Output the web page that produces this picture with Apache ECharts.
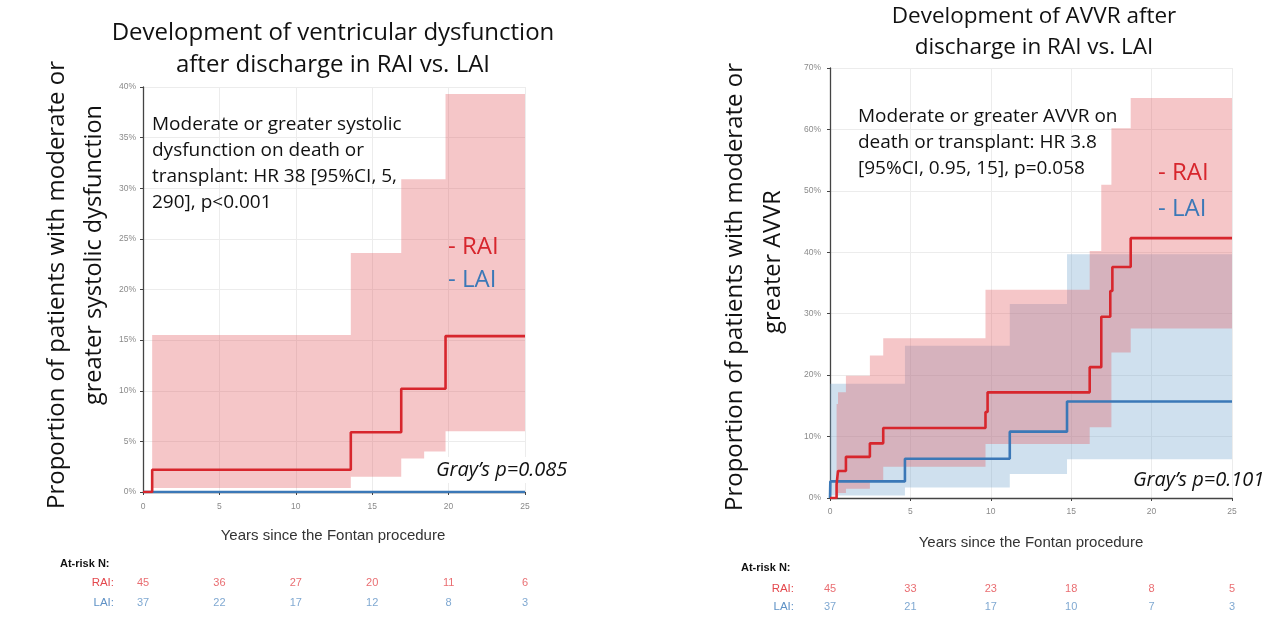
<!DOCTYPE html>
<html><head><meta charset="utf-8">
<script src="https://cdn.jsdelivr.net/npm/echarts@6/dist/echarts.min.js"></script>
<style>html,body{margin:0;padding:0;background:#fff}#c{width:1280px;height:627px}</style>
</head><body><div id="c"></div>
<script>
// ---------- data ----------
const xTicks = [0, 5, 10, 15, 20, 25];
// Left panel: ventricular dysfunction
const L_raiX = [0, 0.6, 13.6, 16.9, 19.8, 25];
const L_raiY = [0, 2.2, 5.9, 10.2, 15.4, 15.4];
const L_laiX = [0, 25];
const L_laiY = [0, 0];
const L_raiBandT  = [0.6, 13.6, 16.9, 18.4, 19.8, 25];
const L_raiBandLo = [0.4, 1.5, 3.3, 4.0, 6.0];
const L_raiBandUp = [15.5, 23.6, 30.9, 30.9, 39.3];
const L_riskRAI = [45, 36, 27, 20, 11, 6];
const L_riskLAI = [37, 22, 17, 12, 8, 3];
// Right panel: AVVR
const R_raiX = [0, 0.41, 0.5, 0.99, 2.48, 3.31, 9.67, 9.8, 16.15, 16.87, 17.43, 17.56, 18.7, 25];
const R_raiY = [0, 2.2, 4.4, 6.7, 8.9, 11.4, 14.0, 17.2, 21.3, 29.5, 33.7, 37.6, 42.3, 42.3];
const R_laiX = [0, 0.02, 4.66, 11.18, 14.74, 25];
const R_laiY = [0, 2.7, 6.4, 10.8, 15.7, 15.7];
const R_raiBandT  = [0.41, 0.5, 0.99, 2.48, 3.31, 9.67, 16.15, 16.87, 17.5, 18.7, 25];
const R_raiBandLo = [0.3, 0.8, 1.5, 2.8, 5.1, 8.8, 11.5, 11.5, 23.7, 27.6];
const R_raiBandUp = [15.3, 17.2, 19.9, 23.2, 26.0, 33.9, 40.2, 51.0, 60.2, 65.1];
const R_laiBandT  = [0, 4.66, 11.18, 14.74, 25];
const R_laiBandLo = [0.4, 1.7, 3.9, 6.3];
const R_laiBandUp = [18.6, 24.8, 31.6, 39.7];
const R_riskRAI = [45, 33, 23, 18, 8, 5];
const R_riskLAI = [37, 21, 17, 10, 7, 3];

// ---------- style ----------
const RED = '#d7262d', BLUE = '#3b78b7';
const PINK = 'rgba(226,92,98,0.35)', LBLUE = 'rgba(118,166,206,0.35)';
const RISK_RED = '#e4484d', RISK_BLUE = '#5f92c6';
const FONT = '"Open Sans", "Noto Sans", sans-serif';
const ARIAL = '"Liberation Sans", Arial, sans-serif';

const chart = echarts.init(document.getElementById('c'), null, {renderer: 'canvas'});

function pairs(xs, ys) { return xs.map((x, i) => [x, ys[i]]); }
function bandSeries(T, lo, up, color, ai) {
  const items = lo.map((v, i) => [T[i], T[i + 1], v, up[i]]);
  return {
    type: 'custom', xAxisIndex: ai, yAxisIndex: ai, data: items, z: 1, silent: true,
    encode: {x: [0, 1], y: [2, 3]},
    renderItem(params, api) {
      if (params.dataIndex !== 0) return null;
      const pts = [];
      for (let i = 0; i < items.length; i++) {
        pts.push(api.coord([items[i][0], items[i][3]]));
        pts.push(api.coord([items[i][1], items[i][3]]));
      }
      for (let i = items.length - 1; i >= 0; i--) {
        pts.push(api.coord([items[i][1], items[i][2]]));
        pts.push(api.coord([items[i][0], items[i][2]]));
      }
      return {type: 'polygon', shape: {points: pts}, style: {fill: color}};
    }
  };
}
function stepLine(xs, ys, color, ai) {
  return {type: 'line', step: 'end', xAxisIndex: ai, yAxisIndex: ai, data: pairs(xs, ys),
    showSymbol: false, symbol: 'none', z: 5, silent: true,
    lineStyle: {color: color, width: 2.6}};
}
function riskSeries(vals, row, color, ai) {
  return {type: 'scatter', xAxisIndex: ai, yAxisIndex: ai, symbolSize: 2, silent: true,
    itemStyle: {color: 'rgba(0,0,0,0)'},
    data: vals.map((v, i) => [xTicks[i], row, v]),
    label: {show: true, position: 'inside', formatter: p => String(p.value[2]),
      color: color, fontSize: 11, fontFamily: ARIAL}};
}
function valAxisX(gi, offset) {
  return {type: 'value', gridIndex: gi, min: 0, max: 25, interval: 5, offset: offset,
    axisLine: {show: true, lineStyle: {color: '#444', width: 1.3}},
    axisTick: {show: true, length: 3, lineStyle: {color: '#444'}},
    axisLabel: {color: '#8a8a8a', fontSize: 8.5, margin: 5, fontFamily: ARIAL},
    splitLine: {show: true, lineStyle: {color: '#ececec', width: 1}}};
}
function valAxisY(gi, max, interval, offset) {
  return {type: 'value', gridIndex: gi, min: 0, max: max, interval: interval, offset: offset,
    axisLine: {show: true, lineStyle: {color: '#444', width: 1.3}},
    axisTick: {show: true, length: 3, lineStyle: {color: '#444'}},
    axisLabel: {color: '#8a8a8a', fontSize: 8.5, margin: 4, formatter: '{value}%', fontFamily: ARIAL},
    splitLine: {show: true, lineStyle: {color: '#ececec', width: 1}}};
}
function hidden(gi, min, max) {
  return {type: 'value', gridIndex: gi, min: min, max: max, show: false,
    splitLine: {show: false}, axisLine: {show: false}, axisTick: {show: false}, axisLabel: {show: false}};
}
function txt(x, y, text, opt) {
  opt = opt || {};
  return {type: 'text', x: x, y: y, rotation: opt.rot || 0, silent: true, z: 20,
    style: Object.assign({text: text, fill: '#111', font: (opt.style || '') + ' ' + (opt.size || 22) + 'px ' + (opt.family || FONT),
      align: opt.align || 'left', verticalAlign: 'middle'}, opt.extra || {})};
}

const graphics = [
  // left panel texts
  txt(333, 33, 'Development of ventricular dysfunction', {align: 'center', size: 24}),
  txt(333, 65, 'after discharge in RAI vs. LAI', {align: 'center', size: 24}),
  txt(57, 285, 'Proportion of patients with moderate or', {align: 'center', size: 24, rot: Math.PI / 2}),
  txt(94, 255, 'greater systolic dysfunction', {align: 'center', size: 23.5, rot: Math.PI / 2}),
  txt(152, 125, 'Moderate or greater systolic', {size: 19}),
  txt(152, 151, 'dysfunction on death or', {size: 19}),
  txt(152, 177, 'transplant: HR 38 [95%CI, 5,', {size: 19}),
  txt(152, 203, '290], p<0.001', {size: 19}),
  txt(448, 247, '- RAI', {size: 24, extra: {fill: RED}}),
  txt(448, 280, '- LAI', {size: 24, extra: {fill: BLUE}}),
  txt(432, 470, 'Gray\u2019s p=0.085', {size: 20, style: 'italic', extra: {backgroundColor: '#fff', padding: [3, 4]}}),
  txt(333, 536, 'Years since the Fontan procedure', {align: 'center', size: 15, family: ARIAL, extra: {fill: '#333'}}),
  txt(60, 564, 'At-risk N:', {size: 11, style: 'bold', family: ARIAL}),
  txt(114, 583, 'RAI:', {align: 'right', size: 11.5, family: ARIAL, extra: {fill: RISK_RED}}),
  txt(114, 603, 'LAI:', {align: 'right', size: 11.5, family: ARIAL, extra: {fill: RISK_BLUE}}),
  // right panel texts
  txt(1034, 17, 'Development of AVVR after', {align: 'center', size: 22.5}),
  txt(1034, 48, 'discharge in RAI vs. LAI', {align: 'center', size: 22.5}),
  txt(735, 287, 'Proportion of patients with moderate or', {align: 'center', size: 24, rot: Math.PI / 2}),
  txt(773, 262, 'greater AVVR', {align: 'center', size: 23.5, rot: Math.PI / 2}),
  txt(858, 117, 'Moderate or greater AVVR on', {size: 19}),
  txt(858, 143, 'death or transplant: HR 3.8', {size: 19}),
  txt(858, 169, '[95%CI, 0.95, 15], p=0.058', {size: 19}),
  txt(1158, 173, '- RAI', {size: 24, extra: {fill: RED}}),
  txt(1158, 209, '- LAI', {size: 24, extra: {fill: BLUE}}),
  txt(1133, 480, 'Gray\u2019s p=0.101', {size: 20, style: 'italic'}),
  txt(1031, 543, 'Years since the Fontan procedure', {align: 'center', size: 15, family: ARIAL, extra: {fill: '#333'}}),
  txt(741, 568, 'At-risk N:', {size: 11, style: 'bold', family: ARIAL}),
  txt(794, 589, 'RAI:', {align: 'right', size: 11.5, family: ARIAL, extra: {fill: RISK_RED}}),
  txt(794, 607, 'LAI:', {align: 'right', size: 11.5, family: ARIAL, extra: {fill: RISK_BLUE}})
];

chart.setOption({
  animation: false,
  backgroundColor: '#fff',
  grid: [
    {left: 143, top: 87, width: 382, height: 405},
    {left: 830, top: 68, width: 402, height: 430},
    {left: 143, top: 583, width: 382, height: 20},
    {left: 830, top: 589, width: 402, height: 18}
  ],
  xAxis: [valAxisX(0, 5), valAxisX(1, 4), hidden(2, 0, 25), hidden(3, 0, 25)],
  yAxis: [valAxisY(0, 40, 5, 3), valAxisY(1, 70, 10, 5), hidden(2, 0, 1), hidden(3, 0, 1)],
  series: [
    bandSeries(L_raiBandT, L_raiBandLo, L_raiBandUp, PINK, 0),
    stepLine(L_laiX, L_laiY, BLUE, 0),
    stepLine(L_raiX, L_raiY, RED, 0),
    bandSeries(R_laiBandT, R_laiBandLo, R_laiBandUp, LBLUE, 1),
    bandSeries(R_raiBandT, R_raiBandLo, R_raiBandUp, PINK, 1),
    stepLine(R_laiX, R_laiY, BLUE, 1),
    stepLine(R_raiX, R_raiY, RED, 1),
    riskSeries(L_riskRAI, 1, RISK_RED, 2),
    riskSeries(L_riskLAI, 0, RISK_BLUE, 2),
    riskSeries(R_riskRAI, 1, RISK_RED, 3),
    riskSeries(R_riskLAI, 0, RISK_BLUE, 3)
  ],
  graphic: graphics
});
</script></body></html>
